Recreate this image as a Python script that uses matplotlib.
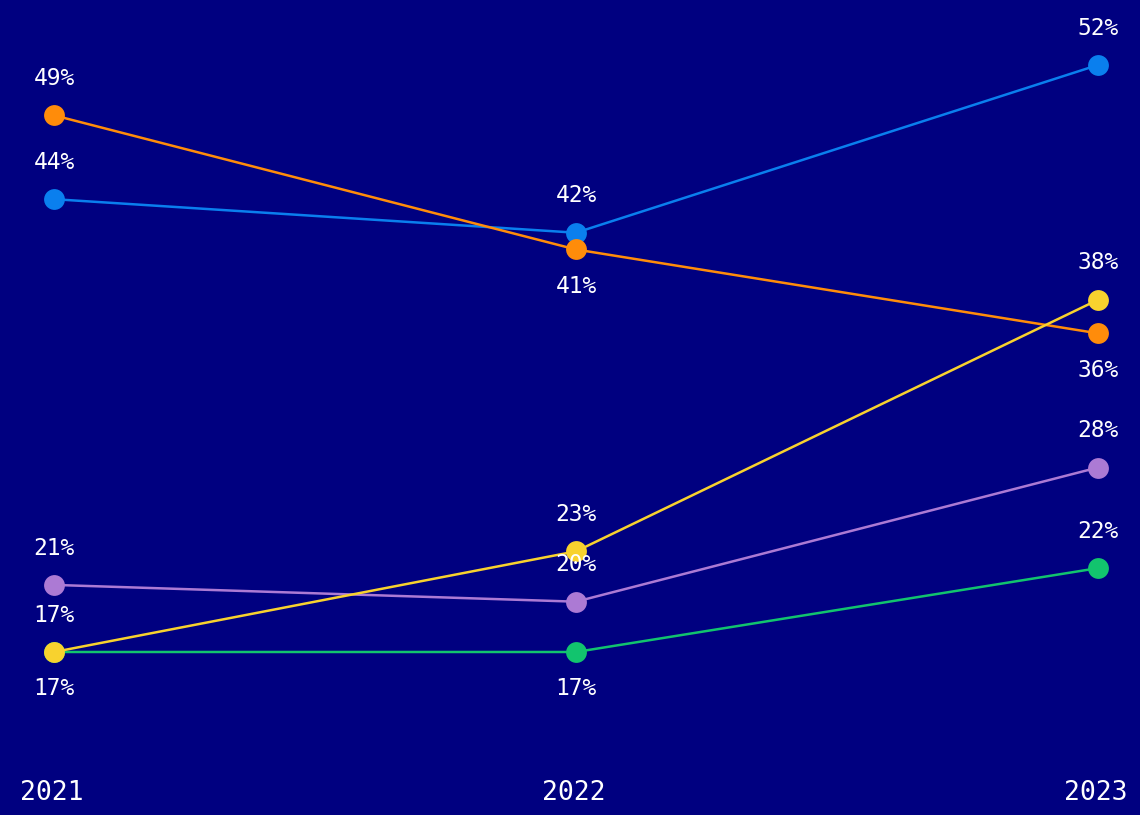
import matplotlib
matplotlib.use("Agg")
import matplotlib.pyplot as plt

years = [2021, 2022, 2023]
blue_vals = [44, 42, 52]
orange_vals = [49, 41, 36]
yellow_vals = [17, 23, 38]
purple_vals = [21, 20, 28]
green_vals = [17, 17, 22]

# label side for each point: 1 above the marker, -1 below
blue_side = [1, 1, 1]
orange_side = [1, -1, -1]
yellow_side = [1, 1, 1]
purple_side = [1, 1, 1]
green_side = [-1, -1, 1]

BG = "#000080"
series = [
    (green_vals, green_side, "#12C46E"),
    (purple_vals, purple_side, "#AC7AD4"),
    (blue_vals, blue_side, "#0A7FEE"),
    (orange_vals, orange_side, "#FF8C0A"),
    (yellow_vals, yellow_side, "#F8D22E"),
]

plt.rcParams["font.family"] = ["DejaVu Sans Mono", "DejaVu Sans"]

fig = plt.figure(figsize=(11.4, 8.15), dpi=100, facecolor=BG)
ax = fig.add_axes([0, 0, 1, 1], facecolor=BG)

for vals, sides, color in series:
    ax.plot(years, vals, color=color, lw=1.8, marker="o", markersize=15,
            markeredgewidth=0, zorder=3)
    for x, v, s in zip(years, vals, sides):
        ax.annotate(f"{v}%", (x, v), xytext=(0, 26.5 * s),
                    textcoords="offset points", ha="center", va="center",
                    color="white", fontsize=16.5, zorder=4)

for x in years:
    ax.text(x - 0.005, 0.027, str(x), transform=ax.get_xaxis_transform(),
            ha="center", va="center", color="white", fontsize=19)

ax.set_xlim(2020.8966, 2023.0805)
ax.set_ylim(7.28, 55.876)
ax.axis("off")

fig.savefig("out.png", dpi=100, facecolor=BG)
